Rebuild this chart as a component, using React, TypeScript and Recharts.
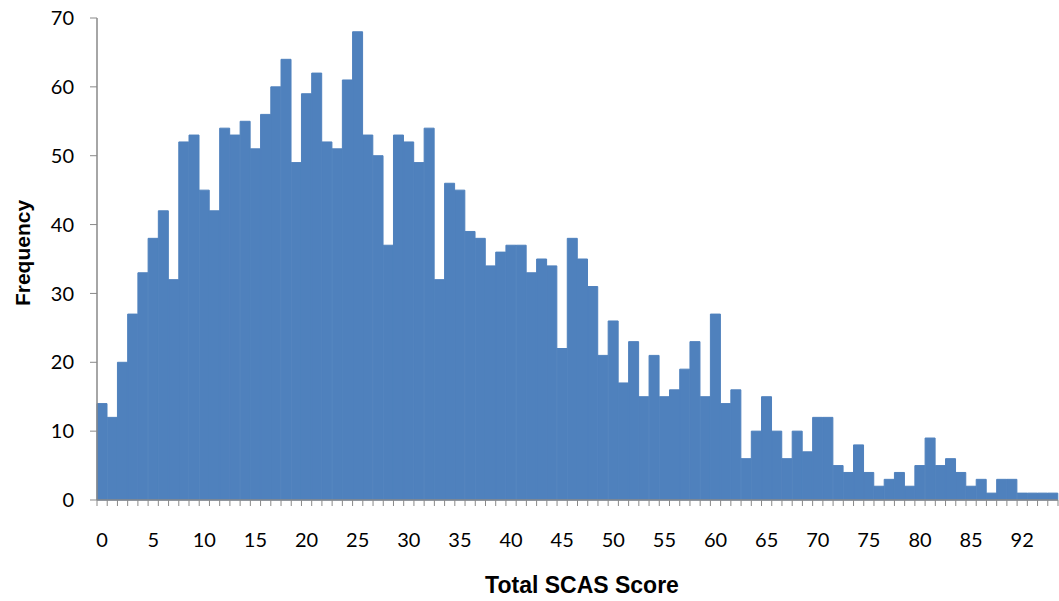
import { Bar, BarChart, XAxis, YAxis } from "recharts";

// score categories: 0..89, then 92..95 (90 and 91 not present)
const SCORES: number[] = [
  0, 1, 2, 3, 4, 5, 6, 7, 8, 9,
  10, 11, 12, 13, 14, 15, 16, 17, 18, 19,
  20, 21, 22, 23, 24, 25, 26, 27, 28, 29,
  30, 31, 32, 33, 34, 35, 36, 37, 38, 39,
  40, 41, 42, 43, 44, 45, 46, 47, 48, 49,
  50, 51, 52, 53, 54, 55, 56, 57, 58, 59,
  60, 61, 62, 63, 64, 65, 66, 67, 68, 69,
  70, 71, 72, 73, 74, 75, 76, 77, 78, 79,
  80, 81, 82, 83, 84, 85, 86, 87, 88, 89,
  92, 93, 94, 95,
];

const FREQUENCY: number[] = [
  14, 12, 20, 27, 33, 38, 42, 32, 52, 53,
  45, 42, 54, 53, 55, 51, 56, 60, 64, 49,
  59, 62, 52, 51, 61, 68, 53, 50, 37, 53,
  52, 49, 54, 32, 46, 45, 39, 38, 34, 36,
  37, 37, 33, 35, 34, 22, 38, 35, 31, 21,
  26, 17, 23, 15, 21, 15, 16, 19, 23, 15,
  27, 14, 16, 6, 10, 15, 10, 6, 10, 7,
  12, 12, 5, 4, 8, 4, 2, 3, 4, 2,
  5, 9, 5, 6, 4, 2, 3, 1, 3, 3,
  1, 1, 1, 1,
];

const Y_TICKS = [0, 10, 20, 30, 40, 50, 60, 70];

const rows = SCORES.map((score, i) => ({ score: String(score), freq: FREQUENCY[i] }));

const AXIS_COLOR = "#898989";
const BAR_COLOR = "#4F81BD";
const TICK_FONT = "Lato, 'Open Sans', sans-serif";
const TITLE_FONT = "'Liberation Sans', Arial, sans-serif";

function ScoreTick(props: any) {
  const { x, y, payload, index } = props;
  const half = payload?.offset ?? 0;
  const last = index === rows.length - 1;
  return (
    <g>
      <line x1={x - half} x2={x - half} y1={y} y2={y + 6} stroke={AXIS_COLOR} />
      {last ? <line x1={x + half} x2={x + half} y1={y} y2={y + 6} stroke={AXIS_COLOR} /> : null}
      {index % 5 === 0 ? (
        <text x={x} y={y + 47} textAnchor="middle" fontSize={20} fontFamily={TICK_FONT} fill="#000">
          {payload.value}
        </text>
      ) : null}
    </g>
  );
}

export default function App() {
  return (
    <div style={{ position: "absolute", left: 0, top: 0, background: "#fff" }}>
      <BarChart
        width={1059}
        height={601}
        data={rows}
        barCategoryGap={0}
        barGap={0}
        margin={{ top: 18, right: 1, left: 0, bottom: 0 }}
      >
        <XAxis
          dataKey="score"
          interval={0}
          height={101}
          tickLine={false}
          tickSize={0}
          tickMargin={0}
          axisLine={{ stroke: AXIS_COLOR, strokeWidth: 1.5 }}
          tick={<ScoreTick />}
          label={{
            content: () => (
              <text
                x={582}
                y={593}
                textAnchor="middle"
                fontSize={23}
                fontWeight="bold"
                fontFamily={TITLE_FONT}
                fill="#000"
              >
                Total SCAS Score
              </text>
            ),
          }}
        />
        <YAxis
          domain={[0, 70]}
          ticks={Y_TICKS}
          width={97}
          tickSize={7}
          tickMargin={16}
          axisLine={{ stroke: AXIS_COLOR, strokeWidth: 1.5 }}
          tickLine={{ stroke: AXIS_COLOR }}
          tick={{ fontSize: 20, fontFamily: TICK_FONT, fill: "#000" }}
          label={{
            content: () => (
              <text
                x={22}
                y={253}
                transform="rotate(-90 22 253)"
                textAnchor="middle"
                dominantBaseline="central"
                fontSize={21}
                fontWeight="bold"
                fontFamily={TITLE_FONT}
                fill="#000"
              >
                Frequency
              </text>
            ),
          }}
        />
        <Bar dataKey="freq" fill={BAR_COLOR} stroke={BAR_COLOR} strokeWidth={1} isAnimationActive={false} />
      </BarChart>
    </div>
  );
}
